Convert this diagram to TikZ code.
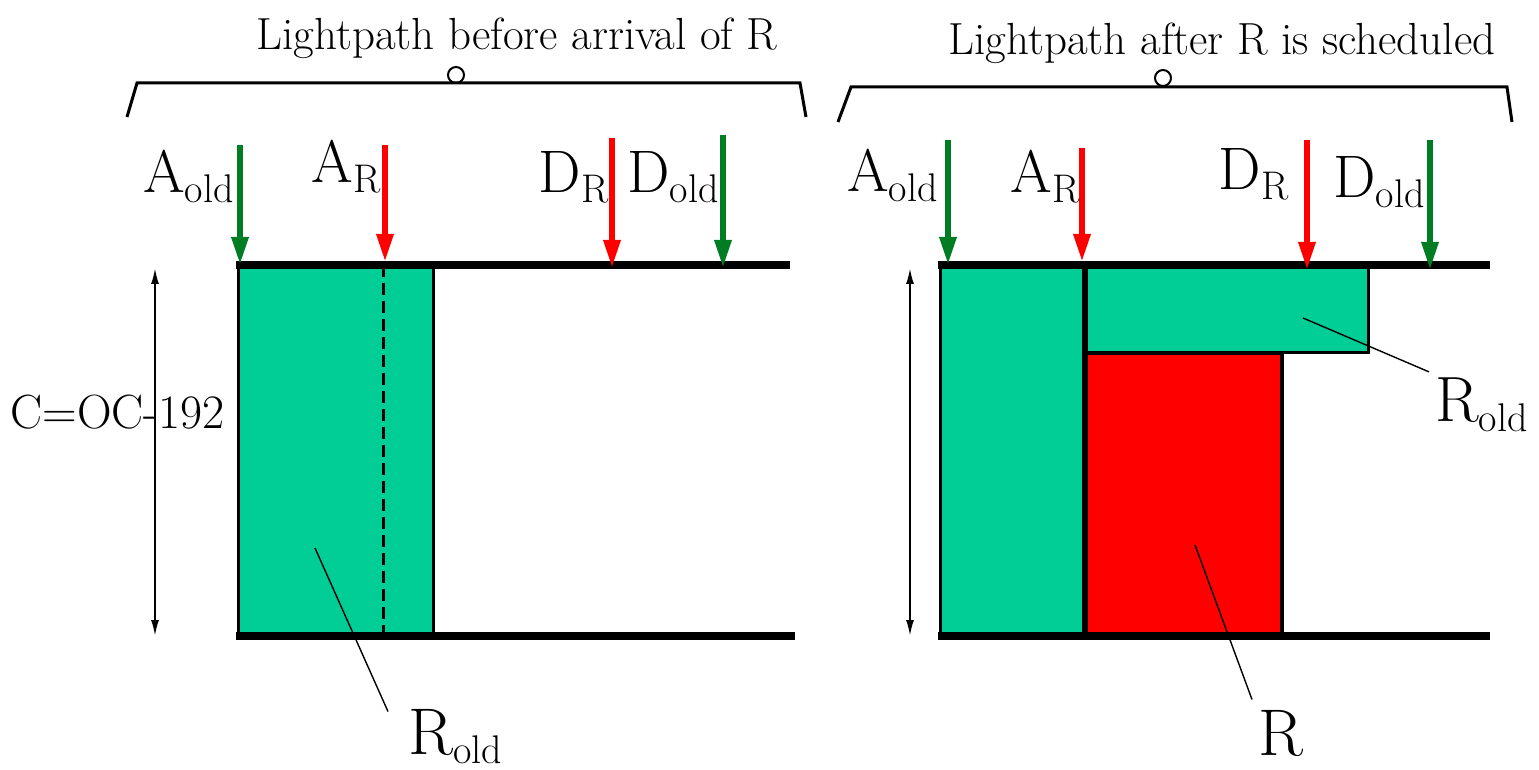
\documentclass[tikz,border=0pt]{standalone}
\usepackage{fontspec}
\usepackage{tikz}
\usetikzlibrary{arrows.meta}
\definecolor{oldgreen}{RGB}{0,206,150}
\definecolor{markgreen}{RGB}{0,125,35}
\definecolor{markred}{RGB}{255,0,0}
\newcommand{\lowsub}[1]{\raisebox{-5pt}{\fontsize{20}{20}\selectfont #1}}

\begin{document}
\begin{tikzpicture}[x=0.5pt,y=-0.5pt,
    lbl/.style={inner sep=0pt,font=\fontsize{30}{30}\selectfont},
    title/.style={inner sep=0pt,anchor=base,font=\fontsize{22.5}{22.5}\selectfont},
    timearrow/.style={line width=3pt,-{Triangle[length=14pt,width=8pt]}},
    railline/.style={line width=4pt},
    caparrow/.style={line width=1pt,{Latex[length=8pt,width=4pt]}-{Latex[length=8pt,width=4pt]}},
    leaderline/.style={line width=0.7pt},
    oldbox/.style={fill=oldgreen,draw=black,line width=1.5pt},
    newbox/.style={fill=markred,draw=black,line width=2pt},
    bracket/.style={line width=1.5pt}
  ]
  \useasboundingbox (0,0) rectangle (1539,770);

  % левая часть: до прихода R
  \node[title] (ttlL) at (517,50) {Lightpath before arrival of R};
  \draw[bracket] (127,117) -- (137,83) -- (800,83) -- (806,117);
  \draw[line width=1pt] (456,75) circle[radius=4pt];

  \draw[oldbox] (238,265) rectangle (433,636);
  \draw[line width=1.5pt,dash pattern=on 6pt off 3pt] (383,265) -- (383,636);
  \draw[railline] (236,265) -- (790,265);
  \draw[railline] (236,636) -- (795,636);

  \foreach \x/\ya/\yb/\c in {240/145/265/markgreen,385/145/262/markred,
                             612/138/268/markred,723/135/268/markgreen}
    \draw[timearrow,\c] (\x,\ya) -- (\x,\yb);

  \node[lbl,anchor=base east] (aoldL) at (234,193) {A\lowsub{old}};
  \node[lbl,anchor=base east] (arL) at (381,183) {A\lowsub{R}};
  \node[lbl,anchor=base east] (drL) at (609,193) {D\lowsub{R}};
  \node[lbl,anchor=base east] (doldL) at (719,193) {D\lowsub{old}};

  \coordinate (capTopL) at (155,268);
  \coordinate (capBotL) at (155,636);
  \draw[caparrow] (capTopL) -- (capBotL);
  \node[lbl,font=\fontsize{24}{24}\selectfont,anchor=base west] (cap) at (10,429) {C=OC-192};

  \node[lbl,font=\fontsize{33}{33}\selectfont,anchor=base west] (roldL) at (408,754) {R\lowsub{old}};
  \coordinate (inL) at (315,548);
  \draw[leaderline] (inL) -- ([xshift=-10pt,yshift=-1.5pt]roldL.north west);

  % правая часть: после планирования R
  \node[title] (ttlR) at (1222,55) {Lightpath after R is scheduled};
  \draw[bracket] (838,122) -- (851,87) -- (1507,87) -- (1512,122);
  \draw[line width=1pt] (1163,78) circle[radius=4pt];

  \draw[oldbox] (940,265) rectangle (1085,636);
  \draw[oldbox] (1085,265) rectangle (1368,353);
  \draw[newbox] (1085,353) rectangle (1282,636);
  \draw[line width=3pt] (1085,265) -- (1085,636);
  \draw[railline] (938,265) -- (1490,265);
  \draw[railline] (938,636) -- (1490,636);

  \foreach \x/\ya/\yb/\c in {948/140/265/markgreen,1082/148/262/markred,
                             1307/140/270/markred,1430/140/270/markgreen}
    \draw[timearrow,\c] (\x,\ya) -- (\x,\yb);

  \node[lbl,anchor=base east] (aoldR) at (938,192) {A\lowsub{old}};
  \node[lbl,anchor=base east] (arR) at (1080,193) {A\lowsub{R}};
  \node[lbl,anchor=base east] (drR) at (1289,190) {D\lowsub{R}};
  \node[lbl,anchor=base east] (doldR) at (1425,198) {D\lowsub{old}};

  \coordinate (capTopR) at (910,268);
  \coordinate (capBotR) at (910,636);
  \draw[caparrow] (capTopR) -- (capBotR);

  \node[lbl,font=\fontsize{32}{32}\selectfont,anchor=base west] (roldR) at (1435,422) {R\lowsub{old}};
  \coordinate (inR1) at (1303,318);
  \draw[leaderline] (inR1) -- ([xshift=-3pt,yshift=3pt]roldR.north west);

  \node[lbl,font=\fontsize{33}{33}\selectfont,anchor=base west] (rnew) at (1258,755) {R};
  \coordinate (inR2) at (1195,545);
  \draw[leaderline] (inR2) -- ([xshift=-3pt,yshift=5pt]rnew.north west);
\end{tikzpicture}
\end{document}
